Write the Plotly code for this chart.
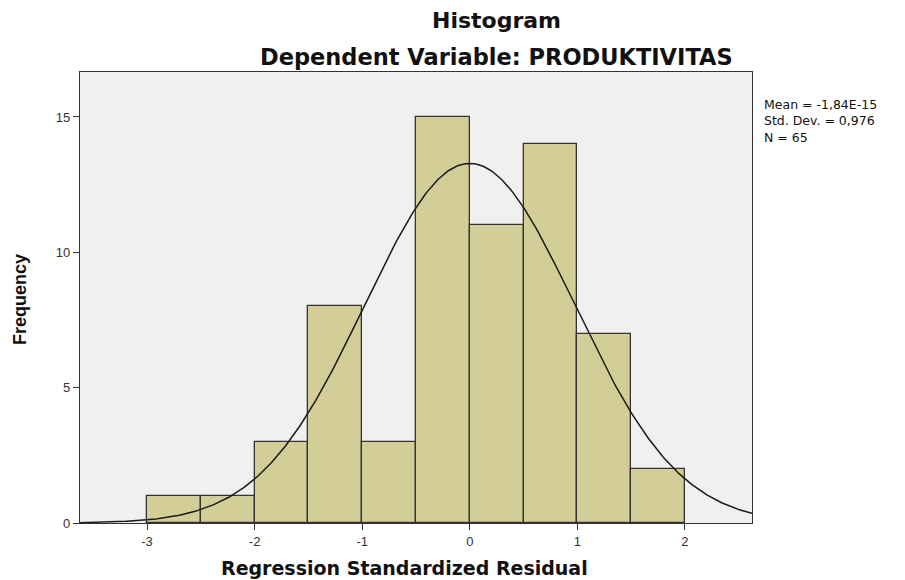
import numpy as np
import plotly.graph_objects as go

# Data
bin_edges = [-3.0, -2.5, -2.0, -1.5, -1.0, -0.5, 0.0, 0.5, 1.0, 1.5, 2.0]
counts = [1, 1, 3, 8, 3, 15, 11, 14, 7, 2]
mean_val = -1.84e-15
std_val = 0.976
n_val = 65
x_ticks = [-3, -2, -1, 0, 1, 2]
y_ticks = [0, 5, 10, 15]
stats_lines = ["Mean = -1,84E-15", "Std. Dev. = 0,976", "N = 65"]

centers = [(a + b) / 2 for a, b in zip(bin_edges[:-1], bin_edges[1:])]
widths = [b - a for a, b in zip(bin_edges[:-1], bin_edges[1:])]
bw = widths[0]

x_range = [-3.623, 2.623]
xs = np.linspace(x_range[0], x_range[1], 400)
ys = n_val * bw / (std_val * np.sqrt(2 * np.pi)) * np.exp(-0.5 * ((xs - mean_val) / std_val) ** 2)

ARIAL = "Liberation Sans, Arial, sans-serif"
DEJA = "DejaVu Sans, Verdana, sans-serif"

W, H = 905, 580
L, R, T, B = 80, 153, 72, 57
PW, PH = W - L - R, H - T - B


def px(x):
    return (x - L) / PW


def py(y):
    return (H - B - y) / PH


fig = go.Figure()
fig.add_trace(go.Bar(
    x=centers, y=counts, width=widths,
    marker=dict(color="#d3ce98", line=dict(color="#333333", width=1.3)),
    hoverinfo="x+y", showlegend=False,
))
fig.add_trace(go.Scatter(
    x=xs, y=ys, mode="lines",
    line=dict(color="#1a1a1a", width=1.5), showlegend=False, hoverinfo="skip",
))

fig.update_layout(
    width=W, height=H,
    margin=dict(l=L, r=R, t=T, b=B, autoexpand=False),
    paper_bgcolor="white",
    plot_bgcolor="#f0f0f0",
    font=dict(family=ARIAL, color="#222222"),
    bargap=0,
)
axis_common = dict(
    showgrid=False, zeroline=False, automargin=False,
    showline=True, linecolor="#333333", linewidth=1.3, mirror=True,
    ticks="outside", ticklen=6, tickcolor="#333333",
    tickfont=dict(size=13, color="#333333", family=ARIAL),
)
fig.update_xaxes(range=x_range, tickvals=x_ticks, ticktext=[str(t) for t in x_ticks], **axis_common)
fig.update_yaxes(range=[0, 16.66], tickvals=y_ticks, ticktext=[str(t) for t in y_ticks], **axis_common)

# Titles
fig.add_annotation(xref="paper", yref="paper", x=px(496), y=py(20),
                   text="<b>Histogram</b>", showarrow=False,
                   font=dict(size=22, color="#111111", family=DEJA),
                   xanchor="center", yanchor="middle")
fig.add_annotation(xref="paper", yref="paper", x=px(496), y=py(57),
                   text="<b>Dependent Variable: PRODUKTIVITAS</b>", showarrow=False,
                   font=dict(size=22.5, color="#111111", family=DEJA),
                   xanchor="center", yanchor="middle")
# Axis titles
fig.add_annotation(xref="paper", yref="paper", x=px(404), y=py(568),
                   text="<b>Regression Standardized Residual</b>", showarrow=False,
                   font=dict(size=19, color="#111111", family=DEJA),
                   xanchor="center", yanchor="middle")
fig.add_annotation(xref="paper", yref="paper", x=px(20), y=py(300),
                   text="<b>Frequency</b>", showarrow=False, textangle=-90,
                   font=dict(size=18, color="#111111", family=ARIAL),
                   xanchor="center", yanchor="middle")
# Stats
fig.add_annotation(xref="paper", yref="paper", x=px(762), y=py(95),
                   text="<br>".join(stats_lines), showarrow=False, align="left",
                   xanchor="left", yanchor="top",
                   font=dict(size=12.5, color="#111111", family=DEJA))

fig.write_html("out.html", config={"displayModeBar": False},
               post_script="document.body.style.margin='0';")
